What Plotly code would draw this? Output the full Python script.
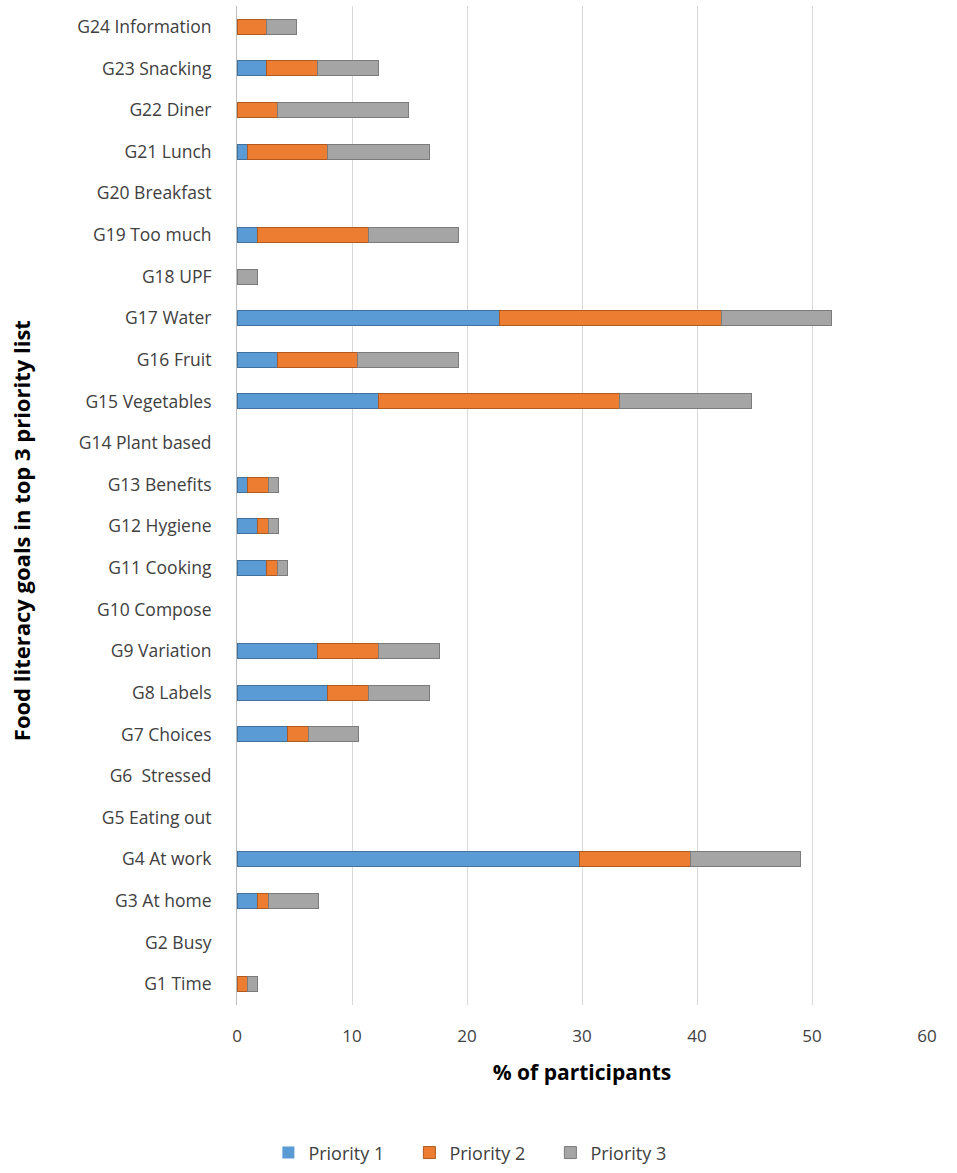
import plotly.graph_objs as go

# food literacy goals, bottom (G1) to top (G24)
goals = ['G1 Time', 'G2 Busy', 'G3 At home', 'G4 At work', 'G5 Eating out', 'G6  Stressed',
         'G7 Choices', 'G8 Labels', 'G9 Variation', 'G10 Compose', 'G11 Cooking', 'G12 Hygiene',
         'G13 Benefits', 'G14 Plant based', 'G15 Vegetables', 'G16 Fruit', 'G17 Water', 'G18 UPF',
         'G19 Too much', 'G20 Breakfast', 'G21 Lunch', 'G22 Diner', 'G23 Snacking', 'G24 Information']

priority1 = [0, 0, 1.8, 29.8, 0, 0, 4.4, 7.9, 7.0, 0, 2.6, 1.8,
             0.9, 0, 12.3, 3.5, 22.8, 0, 1.8, 0, 0.9, 0, 2.6, 0]
priority2 = [0.9, 0, 0.9, 9.6, 0, 0, 1.8, 3.5, 5.3, 0, 0.9, 0.9,
             1.8, 0, 21.0, 7.0, 19.3, 0, 9.6, 0, 7.0, 3.5, 4.4, 2.6]
priority3 = [0.9, 0, 4.4, 9.6, 0, 0, 4.4, 5.3, 5.3, 0, 0.9, 0.9,
             0.9, 0, 11.4, 8.8, 9.6, 1.8, 7.9, 0, 8.8, 11.4, 5.3, 2.6]

series = [('Priority 1', priority1, '#5B9BD5', '#41719C'),
          ('Priority 2', priority2, '#ED7D31', '#AE5A21'),
          ('Priority 3', priority3, '#A5A5A5', '#7B7B7B')]

font_name = 'Open Sans'
text_col = '#404040'

fig = go.Figure()
for name, vals, col, edge in series:
    fig.add_trace(go.Bar(
        y=goals, x=vals, name=name, orientation='h',
        marker_color=col, marker_line_color=edge,
        marker_line_width=[1 if v > 0 else 0 for v in vals],  # no outline on empty bars
        width=0.36,
    ))

fig.update_layout(
    barmode='stack',
    width=957, height=1173,
    paper_bgcolor='white', plot_bgcolor='white',
    margin=dict(l=237, r=30, t=6, b=168, autoexpand=False),
    font=dict(family=font_name, size=17, color=text_col),
    # legend sits centred on the page, not on the plot area
    legend=dict(orientation='h', x=0.352, xanchor='center', y=-0.148, yanchor='middle',
                font=dict(size=18, color=text_col), traceorder='normal',
                entrywidth=96, entrywidthmode='pixels', itemwidth=30),
    xaxis=dict(range=[0, 60], dtick=10, showgrid=True, gridcolor='#D9D9D9', gridwidth=1,
               zeroline=False, showline=False, ticks='', ticklabelstandoff=19,
               tickfont=dict(size=17, color=text_col),
               title=dict(text='<b>% of participants</b>', standoff=19,
                          font=dict(size=21, color='black'))),
    yaxis=dict(categoryorder='array', categoryarray=goals, range=[-0.5, 23.5],
               showline=True, linecolor='#BFBFBF', linewidth=1, ticks='',
               ticklabelstandoff=21, tickfont=dict(size=17.5, color=text_col)),
    annotations=[dict(text='<b>Food literacy goals in top 3 priority list</b>',
                      xref='paper', yref='paper', x=-0.312, y=0.475,
                      xanchor='center', yanchor='middle', textangle=-90,
                      showarrow=False, font=dict(size=22, color='black'))],
)

fig.write_html("out.html", config={'displayModeBar': False},
               post_script="document.body.style.margin='0';")
